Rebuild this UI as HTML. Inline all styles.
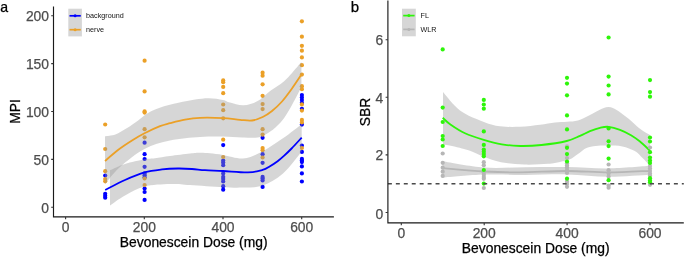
<!DOCTYPE html>
<html><head><meta charset="utf-8"><style>
html,body{margin:0;padding:0;background:#fff;}
body{width:685px;height:257px;overflow:hidden;font-family:"Liberation Sans",sans-serif;}
svg{display:block;filter:blur(0.35px);}
</style></head><body>
<svg width="685" height="257" viewBox="0 0 685 257" font-family="Liberation Sans, sans-serif"><rect width="685" height="257" fill="#ffffff"/><g fill="#0000FF"><circle cx="105.2" cy="175.6" r="2.1"/><circle cx="105.2" cy="193.8" r="2.1"/><circle cx="105.2" cy="195.8" r="2.1"/><circle cx="105.2" cy="197.7" r="2.1"/><circle cx="144.6" cy="142.7" r="2.1"/><circle cx="144.6" cy="154.2" r="2.1"/><circle cx="144.6" cy="159" r="2.1"/><circle cx="144.6" cy="166.8" r="2.1"/><circle cx="144.6" cy="173.4" r="2.1"/><circle cx="144.6" cy="175.2" r="2.1"/><circle cx="144.6" cy="177.3" r="2.1"/><circle cx="144.6" cy="188.5" r="2.1"/><circle cx="144.6" cy="192" r="2.1"/><circle cx="144.6" cy="199.9" r="2.1"/><circle cx="223.2" cy="145.1" r="2.1"/><circle cx="223.2" cy="160.5" r="2.1"/><circle cx="223.2" cy="162.5" r="2.1"/><circle cx="223.2" cy="165.2" r="2.1"/><circle cx="223.2" cy="173.4" r="2.1"/><circle cx="223.2" cy="176.9" r="2.1"/><circle cx="223.2" cy="179" r="2.1"/><circle cx="223.2" cy="181.5" r="2.1"/><circle cx="223.2" cy="186.2" r="2.1"/><circle cx="223.2" cy="189.7" r="2.1"/><circle cx="262.6" cy="137.8" r="2.1"/><circle cx="262.6" cy="154.2" r="2.1"/><circle cx="262.6" cy="162.8" r="2.1"/><circle cx="262.6" cy="176.9" r="2.1"/><circle cx="262.6" cy="178.5" r="2.1"/><circle cx="262.6" cy="180.4" r="2.1"/><circle cx="262.6" cy="186.9" r="2.1"/><circle cx="301.9" cy="95" r="2.1"/><circle cx="301.9" cy="97.5" r="2.1"/><circle cx="301.9" cy="100" r="2.1"/><circle cx="301.9" cy="102.8" r="2.1"/><circle cx="301.9" cy="108.8" r="2.1"/><circle cx="301.9" cy="124.6" r="2.1"/><circle cx="301.9" cy="145.5" r="2.1"/><circle cx="301.9" cy="151.9" r="2.1"/><circle cx="301.9" cy="158.9" r="2.1"/><circle cx="301.9" cy="160.5" r="2.1"/><circle cx="301.9" cy="162.1" r="2.1"/><circle cx="301.9" cy="166.4" r="2.1"/><circle cx="301.9" cy="173.4" r="2.1"/><circle cx="301.9" cy="181.5" r="2.1"/></g><g fill="#EBA027"><circle cx="105.2" cy="124.5" r="2.1"/><circle cx="105.2" cy="149" r="2.1"/><circle cx="105.2" cy="171.2" r="2.1"/><circle cx="105.2" cy="179" r="2.1"/><circle cx="105.2" cy="181.3" r="2.1"/><circle cx="144.6" cy="60.7" r="2.1"/><circle cx="144.6" cy="91.4" r="2.1"/><circle cx="144.6" cy="111.4" r="2.1"/><circle cx="144.6" cy="112.6" r="2.1"/><circle cx="144.6" cy="129.2" r="2.1"/><circle cx="144.6" cy="137.3" r="2.1"/><circle cx="144.6" cy="178.5" r="2.1"/><circle cx="144.6" cy="185" r="2.1"/><circle cx="223.2" cy="80.4" r="2.1"/><circle cx="223.2" cy="82.2" r="2.1"/><circle cx="223.2" cy="86.9" r="2.1"/><circle cx="223.2" cy="93.2" r="2.1"/><circle cx="223.2" cy="104.5" r="2.1"/><circle cx="223.2" cy="110.2" r="2.1"/><circle cx="223.2" cy="118.3" r="2.1"/><circle cx="223.2" cy="139.7" r="2.1"/><circle cx="223.2" cy="157" r="2.1"/><circle cx="262.6" cy="72.7" r="2.1"/><circle cx="262.6" cy="75.7" r="2.1"/><circle cx="262.6" cy="84.3" r="2.1"/><circle cx="262.6" cy="95.8" r="2.1"/><circle cx="262.6" cy="104.1" r="2.1"/><circle cx="262.6" cy="109.1" r="2.1"/><circle cx="262.6" cy="129.2" r="2.1"/><circle cx="262.6" cy="134.6" r="2.1"/><circle cx="262.6" cy="148" r="2.1"/><circle cx="262.6" cy="150.2" r="2.1"/><circle cx="262.6" cy="157.5" r="2.1"/><circle cx="301.9" cy="21.3" r="2.1"/><circle cx="301.9" cy="36.7" r="2.1"/><circle cx="301.9" cy="45.8" r="2.1"/><circle cx="301.9" cy="50.7" r="2.1"/><circle cx="301.9" cy="57.4" r="2.1"/><circle cx="301.9" cy="65.2" r="2.1"/><circle cx="301.9" cy="74.6" r="2.1"/><circle cx="301.9" cy="86.2" r="2.1"/><circle cx="301.9" cy="89.2" r="2.1"/><circle cx="301.9" cy="104.4" r="2.1"/><circle cx="301.9" cy="110.6" r="2.1"/><circle cx="301.9" cy="119.9" r="2.1"/><circle cx="301.9" cy="122.4" r="2.1"/><circle cx="301.9" cy="148" r="2.1"/></g><path d="M105.00,136.20 C106.73,135.90 111.72,135.77 115.40,134.40 C119.08,133.03 123.20,130.42 127.10,128.00 C131.00,125.58 135.30,122.40 138.80,119.90 C142.30,117.40 144.60,115.03 148.10,113.00 C151.60,110.97 154.73,109.40 159.80,107.70 C164.87,106.00 172.63,104.15 178.50,102.80 C184.37,101.45 189.92,100.37 195.00,99.60 C200.08,98.83 204.33,98.15 209.00,98.20 C213.67,98.25 219.50,99.17 223.00,99.90 C226.50,100.63 226.57,101.70 230.00,102.60 C233.43,103.50 239.07,105.52 243.60,105.30 C248.13,105.08 252.67,103.78 257.20,101.30 C261.73,98.82 266.27,93.80 270.80,90.40 C275.33,87.00 279.87,84.98 284.40,80.90 C288.93,76.82 295.17,69.05 298.00,65.90 C300.83,62.75 300.83,62.65 301.40,62.00 L301.40,87.20 C298.33,92.58 289.47,111.37 283.00,119.50 C276.53,127.63 269.27,133.00 262.60,136.00 C255.93,139.00 249.60,137.42 243.00,137.50 C236.40,137.58 230.17,136.58 223.00,136.50 C215.83,136.42 208.83,136.33 200.00,137.00 C191.17,137.67 179.25,138.50 170.00,140.50 C160.75,142.50 152.83,144.58 144.50,149.00 C136.17,153.42 126.58,161.17 120.00,167.00 C113.42,172.83 107.50,181.17 105.00,184.00 Z" fill="rgba(153,153,153,0.4)"/><path d="M110.00,170.30 C112.50,169.25 119.25,165.83 125.00,164.00 C130.75,162.17 139.50,160.27 144.50,159.30 C149.50,158.33 150.75,158.75 155.00,158.20 C159.25,157.65 164.17,156.78 170.00,156.00 C175.83,155.22 185.00,154.05 190.00,153.50 C195.00,152.95 196.67,152.73 200.00,152.70 C203.33,152.67 206.17,152.92 210.00,153.30 C213.83,153.68 217.50,154.13 223.00,155.00 C228.50,155.87 236.83,158.88 243.00,158.50 C249.17,158.12 253.33,156.08 260.00,152.70 C266.67,149.32 276.05,142.95 283.00,138.20 C289.95,133.45 298.58,126.53 301.70,124.20 L301.70,151.40 C298.58,155.07 289.52,167.72 283.00,173.40 C276.48,179.08 269.27,183.15 262.60,185.50 C255.93,187.85 249.60,187.22 243.00,187.50 C236.40,187.78 231.83,187.62 223.00,187.20 C214.17,186.78 198.83,185.53 190.00,185.00 C181.17,184.47 177.58,183.75 170.00,184.00 C162.42,184.25 152.00,184.58 144.50,186.50 C137.00,188.42 130.75,192.33 125.00,195.50 C119.25,198.67 112.50,203.83 110.00,205.50 Z" fill="rgba(153,153,153,0.4)"/><path d="M105.00,161.00 C107.17,159.17 113.50,153.42 118.00,150.00 C122.50,146.58 127.58,143.28 132.00,140.50 C136.42,137.72 139.83,135.68 144.50,133.30 C149.17,130.92 155.75,127.88 160.00,126.20 C164.25,124.52 165.83,124.30 170.00,123.20 C174.17,122.10 180.00,120.50 185.00,119.60 C190.00,118.70 193.67,118.05 200.00,117.80 C206.33,117.55 216.33,117.77 223.00,118.10 C229.67,118.43 235.17,119.40 240.00,119.80 C244.83,120.20 248.22,120.97 252.00,120.50 C255.78,120.03 259.37,118.58 262.70,117.00 C266.03,115.42 268.78,113.58 272.00,111.00 C275.22,108.42 278.67,105.25 282.00,101.50 C285.33,97.75 288.77,92.98 292.00,88.50 C295.23,84.02 299.83,76.92 301.40,74.60" fill="none" stroke="#EBA027" stroke-width="1.8"/><path d="M105.20,190.00 C108.50,188.33 118.45,182.93 125.00,180.00 C131.55,177.07 138.33,174.17 144.50,172.40 C150.67,170.63 156.42,170.05 162.00,169.40 C167.58,168.75 173.00,168.57 178.00,168.50 C183.00,168.43 187.50,168.72 192.00,169.00 C196.50,169.28 199.83,169.87 205.00,170.20 C210.17,170.53 215.83,170.63 223.00,171.00 C230.17,171.37 241.40,172.58 248.00,172.40 C254.60,172.22 258.93,170.93 262.60,169.90 C266.27,168.87 267.50,167.65 270.00,166.20 C272.50,164.75 275.23,162.97 277.60,161.20 C279.97,159.43 281.87,157.72 284.20,155.60 C286.53,153.48 288.68,151.50 291.60,148.50 C294.52,145.50 300.02,139.42 301.70,137.60" fill="none" stroke="#0000FF" stroke-width="1.8"/><path d="M53.5,6.4 V216.9 H333.9" fill="none" stroke="#1a1a1a" stroke-width="1.15"/><path d="M51.2,207.3 H53.5 M51.2,159.4 H53.5 M51.2,111.5 H53.5 M51.2,63.6 H53.5 M51.2,15.7 H53.5 M65.6,216.9 V219.2 M144.3,216.9 V219.2 M223.0,216.9 V219.2 M301.7,216.9 V219.2" stroke="#333" stroke-width="1.1"/><text x="49" y="213.2" font-size="13.85" fill="#4D4D4D" text-anchor="end" stroke="#4D4D4D" stroke-width="0.25">0</text><text x="49" y="164.9" font-size="13.85" fill="#4D4D4D" text-anchor="end" stroke="#4D4D4D" stroke-width="0.25">50</text><text x="49" y="117.0" font-size="13.85" fill="#4D4D4D" text-anchor="end" stroke="#4D4D4D" stroke-width="0.25">100</text><text x="49" y="69.1" font-size="13.85" fill="#4D4D4D" text-anchor="end" stroke="#4D4D4D" stroke-width="0.25">150</text><text x="49" y="21.2" font-size="13.85" fill="#4D4D4D" text-anchor="end" stroke="#4D4D4D" stroke-width="0.25">200</text><text x="65.6" y="231.6" font-size="13.85" fill="#4D4D4D" text-anchor="middle" stroke="#4D4D4D" stroke-width="0.25">0</text><text x="144.3" y="231.6" font-size="13.85" fill="#4D4D4D" text-anchor="middle" stroke="#4D4D4D" stroke-width="0.25">200</text><text x="223.0" y="231.6" font-size="13.85" fill="#4D4D4D" text-anchor="middle" stroke="#4D4D4D" stroke-width="0.25">400</text><text x="301.7" y="231.6" font-size="13.85" fill="#4D4D4D" text-anchor="middle" stroke="#4D4D4D" stroke-width="0.25">600</text><text x="193.7" y="246.6" font-size="13.85" fill="#000" text-anchor="middle" stroke="#000" stroke-width="0.25">Bevonescein Dose (mg)</text><text transform="translate(20.0,111.5) rotate(-90)" font-size="13.85" fill="#000" text-anchor="middle" stroke="#000" stroke-width="0.25">MPI</text><text x="0.3" y="12.2" font-size="14.1" fill="#000" stroke="#000" stroke-width="0.25">a</text><rect x="68.3" y="8.7" width="13.6" height="27.7" fill="#D6D6D6"/><path d="M69.5,15.8 H80.8" stroke="#0000FF" stroke-width="1.7"/><circle cx="75.1" cy="15.8" r="1.5" fill="#0000FF"/><path d="M69.5,29.7 H80.8" stroke="#EBA027" stroke-width="1.7"/><circle cx="75.1" cy="29.7" r="1.5" fill="#EBA027"/><text x="86.1" y="18.1" font-size="7.2" fill="#111" stroke="#111" stroke-width="0">background</text><text x="86.1" y="32.2" font-size="7.2" fill="#111" stroke="#111" stroke-width="0">nerve</text><path d="M443.00,92.10 C445.83,95.15 453.17,105.42 460.00,110.40 C466.83,115.38 477.33,119.35 484.00,122.00 C490.67,124.65 494.00,125.50 500.00,126.30 C506.00,127.10 513.33,127.05 520.00,126.80 C526.67,126.55 534.17,125.50 540.00,124.80 C545.83,124.10 550.50,123.10 555.00,122.60 C559.50,122.10 563.17,122.13 567.00,121.80 C570.83,121.47 574.17,121.73 578.00,120.60 C581.83,119.47 584.90,117.27 590.00,115.00 C595.10,112.73 602.77,106.85 608.60,107.00 C614.43,107.15 619.77,112.28 625.00,115.90 C630.23,119.52 635.83,125.52 640.00,128.70 C644.17,131.88 648.33,133.95 650.00,135.00 L650.00,165.80 C648.77,164.50 645.13,160.47 642.60,158.00 C640.07,155.53 638.18,152.93 634.80,151.00 C631.42,149.07 626.72,147.30 622.30,146.40 C617.88,145.50 612.72,145.67 608.30,145.60 C603.88,145.53 599.43,145.62 595.80,146.00 C592.17,146.38 589.35,146.67 586.50,147.90 C583.65,149.13 581.57,151.45 578.70,153.40 C575.83,155.35 572.42,158.18 569.30,159.60 C566.18,161.02 563.55,161.20 560.00,161.90 C556.45,162.60 553.92,163.35 548.00,163.80 C542.08,164.25 532.33,164.85 524.50,164.60 C516.67,164.35 507.75,163.60 501.00,162.30 C494.25,161.00 489.17,158.72 484.00,156.80 C478.83,154.88 473.67,152.18 470.00,150.80 C466.33,149.42 465.00,149.30 462.00,148.50 C459.00,147.70 455.17,146.67 452.00,146.00 C448.83,145.33 444.50,144.75 443.00,144.50 Z" fill="rgba(153,153,153,0.4)"/><path d="M442.70,161.20 C449.58,162.25 470.28,166.50 484.00,167.50 C497.72,168.50 511.17,167.28 525.00,167.20 C538.83,167.12 553.07,166.80 567.00,167.00 C580.93,167.20 594.77,168.60 608.60,168.40 C622.43,168.20 643.10,166.23 650.00,165.80 L650.00,174.80 C643.10,175.13 622.43,176.87 608.60,176.80 C594.77,176.73 580.93,174.70 567.00,174.40 C553.07,174.10 538.83,174.97 525.00,175.00 C511.17,175.03 497.72,174.17 484.00,174.60 C470.28,175.03 449.58,177.10 442.70,177.60 Z" fill="rgba(153,153,153,0.4)"/><path d="M442.70,117.80 C443.98,118.92 446.68,121.92 450.40,124.50 C454.12,127.08 459.43,130.73 465.00,133.30 C470.57,135.87 477.67,138.07 483.80,139.90 C489.93,141.73 495.70,143.28 501.80,144.30 C507.90,145.32 513.78,145.88 520.40,146.00 C527.02,146.12 533.78,145.83 541.50,145.00 C549.22,144.17 560.28,142.53 566.70,141.00 C573.12,139.47 576.12,137.43 580.00,135.80 C583.88,134.17 586.67,132.53 590.00,131.20 C593.33,129.87 596.90,128.53 600.00,127.80 C603.10,127.07 605.27,126.47 608.60,126.80 C611.93,127.13 616.27,128.40 620.00,129.80 C623.73,131.20 627.67,133.25 631.00,135.20 C634.33,137.15 636.83,138.92 640.00,141.50 C643.17,144.08 648.33,149.17 650.00,150.70" fill="none" stroke="#2EF50A" stroke-width="1.8"/><path d="M442.70,168.20 C449.58,168.75 471.12,170.80 484.00,171.50 C496.88,172.20 506.17,172.48 520.00,172.40 C533.83,172.32 552.23,171.00 567.00,171.00 C581.77,171.00 594.77,172.43 608.60,172.40 C622.43,172.37 643.10,171.07 650.00,170.80" fill="none" stroke="#B6B6B6" stroke-width="1.8"/><g fill="#B6B6B6"><circle cx="442.7" cy="153.5" r="2.1"/><circle cx="442.7" cy="162.8" r="2.1"/><circle cx="442.7" cy="167.7" r="2.1"/><circle cx="442.7" cy="171.7" r="2.1"/><circle cx="442.7" cy="175.9" r="2.1"/><circle cx="483.8" cy="162.2" r="2.1"/><circle cx="483.8" cy="165.3" r="2.1"/><circle cx="483.8" cy="172.5" r="2.1"/><circle cx="483.8" cy="174.8" r="2.1"/><circle cx="483.8" cy="177" r="2.1"/><circle cx="483.8" cy="178.8" r="2.1"/><circle cx="483.8" cy="188" r="2.1"/><circle cx="567.0" cy="146.3" r="2.1"/><circle cx="567.0" cy="158" r="2.1"/><circle cx="567.0" cy="163.3" r="2.1"/><circle cx="567.0" cy="165.5" r="2.1"/><circle cx="567.0" cy="167.5" r="2.1"/><circle cx="567.0" cy="170" r="2.1"/><circle cx="567.0" cy="172.9" r="2.1"/><circle cx="567.0" cy="181.7" r="2.1"/><circle cx="567.0" cy="184" r="2.1"/><circle cx="567.0" cy="186.8" r="2.1"/><circle cx="608.6" cy="164.5" r="2.1"/><circle cx="608.6" cy="170.2" r="2.1"/><circle cx="608.6" cy="173.5" r="2.1"/><circle cx="608.6" cy="176.5" r="2.1"/><circle cx="608.6" cy="185.6" r="2.1"/><circle cx="608.6" cy="187.7" r="2.1"/><circle cx="650.0" cy="147.5" r="2.1"/><circle cx="650.0" cy="166" r="2.1"/><circle cx="650.0" cy="168.5" r="2.1"/><circle cx="650.0" cy="171" r="2.1"/><circle cx="650.0" cy="173.5" r="2.1"/><circle cx="650.0" cy="175.5" r="2.1"/><circle cx="650.0" cy="184.8" r="2.1"/></g><g fill="#2EF50A"><circle cx="442.7" cy="49.4" r="2.1"/><circle cx="442.7" cy="107.6" r="2.1"/><circle cx="442.7" cy="122" r="2.1"/><circle cx="442.7" cy="136" r="2.1"/><circle cx="442.7" cy="139.5" r="2.1"/><circle cx="442.7" cy="146" r="2.1"/><circle cx="483.8" cy="99.9" r="2.1"/><circle cx="483.8" cy="104.5" r="2.1"/><circle cx="483.8" cy="108.7" r="2.1"/><circle cx="483.8" cy="131.4" r="2.1"/><circle cx="483.8" cy="144.9" r="2.1"/><circle cx="483.8" cy="149.5" r="2.1"/><circle cx="483.8" cy="151.8" r="2.1"/><circle cx="483.8" cy="154" r="2.1"/><circle cx="483.8" cy="156.3" r="2.1"/><circle cx="483.8" cy="170" r="2.1"/><circle cx="483.8" cy="183.6" r="2.1"/><circle cx="567.0" cy="77.8" r="2.1"/><circle cx="567.0" cy="83.6" r="2.1"/><circle cx="567.0" cy="95.3" r="2.1"/><circle cx="567.0" cy="115.4" r="2.1"/><circle cx="567.0" cy="129.4" r="2.1"/><circle cx="567.0" cy="147.8" r="2.1"/><circle cx="567.0" cy="154.1" r="2.1"/><circle cx="567.0" cy="161.5" r="2.1"/><circle cx="567.0" cy="178.7" r="2.1"/><circle cx="608.6" cy="37.5" r="2.1"/><circle cx="608.6" cy="76.6" r="2.1"/><circle cx="608.6" cy="85.5" r="2.1"/><circle cx="608.6" cy="94.4" r="2.1"/><circle cx="608.6" cy="128.4" r="2.1"/><circle cx="608.6" cy="141.3" r="2.1"/><circle cx="608.6" cy="146.1" r="2.1"/><circle cx="608.6" cy="158.6" r="2.1"/><circle cx="608.6" cy="180.2" r="2.1"/><circle cx="650.0" cy="80.1" r="2.1"/><circle cx="650.0" cy="92.1" r="2.1"/><circle cx="650.0" cy="96.7" r="2.1"/><circle cx="650.0" cy="137.5" r="2.1"/><circle cx="650.0" cy="141.5" r="2.1"/><circle cx="650.0" cy="152.2" r="2.1"/><circle cx="650.0" cy="157.6" r="2.1"/><circle cx="650.0" cy="160.5" r="2.1"/><circle cx="650.0" cy="163" r="2.1"/><circle cx="650.0" cy="178.2" r="2.1"/><circle cx="650.0" cy="180.5" r="2.1"/><circle cx="650.0" cy="182.3" r="2.1"/></g><path d="M387.9,183.8 H683.8" stroke="#4a4a4a" stroke-width="1.45" stroke-dasharray="3.972 3.972"/><path d="M387.9,0.6 V222.9 H683.8" fill="none" stroke="#1a1a1a" stroke-width="1.15"/><path d="M385.6,212.5 H387.9 M385.6,154.9 H387.9 M385.6,97.3 H387.9 M385.6,39.7 H387.9 M401.3,222.9 V225.2 M484.2,222.9 V225.2 M567.1,222.9 V225.2 M650.0,222.9 V225.2" stroke="#333" stroke-width="1.1"/><text x="383.2" y="218.5" font-size="13.85" fill="#4D4D4D" text-anchor="end" stroke="#4D4D4D" stroke-width="0.25">0</text><text x="383.2" y="160.1" font-size="13.85" fill="#4D4D4D" text-anchor="end" stroke="#4D4D4D" stroke-width="0.25">2</text><text x="383.2" y="102.5" font-size="13.85" fill="#4D4D4D" text-anchor="end" stroke="#4D4D4D" stroke-width="0.25">4</text><text x="383.2" y="44.9" font-size="13.85" fill="#4D4D4D" text-anchor="end" stroke="#4D4D4D" stroke-width="0.25">6</text><text x="401.3" y="237.8" font-size="13.85" fill="#4D4D4D" text-anchor="middle" stroke="#4D4D4D" stroke-width="0.25">0</text><text x="484.2" y="237.8" font-size="13.85" fill="#4D4D4D" text-anchor="middle" stroke="#4D4D4D" stroke-width="0.25">200</text><text x="567.1" y="237.8" font-size="13.85" fill="#4D4D4D" text-anchor="middle" stroke="#4D4D4D" stroke-width="0.25">400</text><text x="650.0" y="237.8" font-size="13.85" fill="#4D4D4D" text-anchor="middle" stroke="#4D4D4D" stroke-width="0.25">600</text><text x="535.7" y="253.3" font-size="13.85" fill="#000" text-anchor="middle" stroke="#000" stroke-width="0.25">Bevonescein Dose (mg)</text><text transform="translate(369.9,112) rotate(-90)" font-size="13.85" fill="#000" text-anchor="middle" stroke="#000" stroke-width="0.25">SBR</text><text x="350.8" y="12.35" font-size="15" fill="#000" stroke="#000" stroke-width="0.25">b</text><rect x="402" y="8.7" width="13.8" height="27.6" fill="#D6D6D6"/><path d="M403.2,15.6 H414.6" stroke="#2EF50A" stroke-width="1.7"/><circle cx="408.9" cy="15.6" r="1.5" fill="#2EF50A"/><path d="M403.2,29.4 H414.6" stroke="#B6B6B6" stroke-width="1.7"/><circle cx="408.9" cy="29.4" r="1.5" fill="#B6B6B6"/><text x="420.5" y="18.3" font-size="7.2" fill="#111" stroke="#111" stroke-width="0">FL</text><text x="420.5" y="32.2" font-size="7.2" fill="#111" stroke="#111" stroke-width="0">WLR</text></svg>
</body></html>
